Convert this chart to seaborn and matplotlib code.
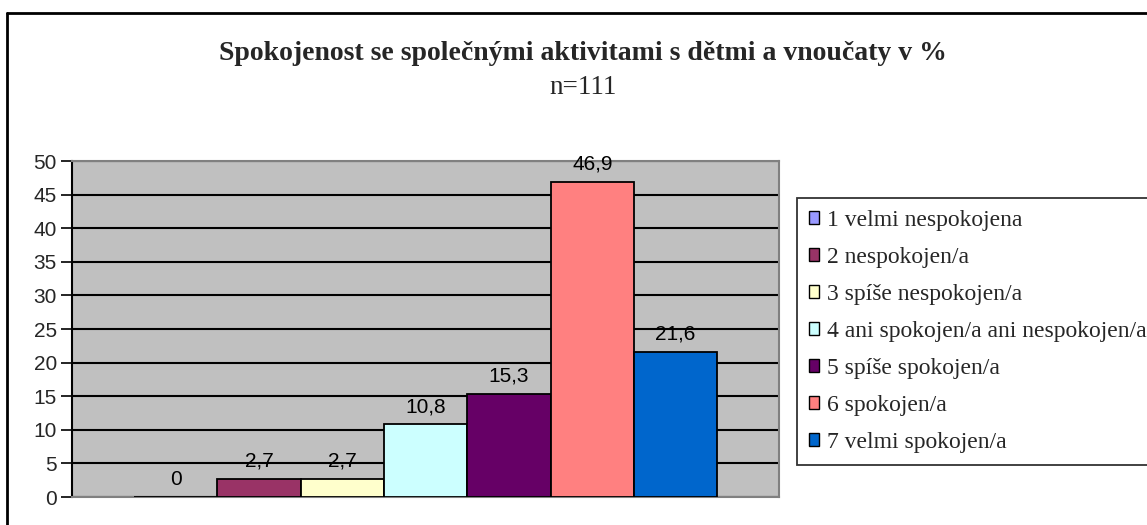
import matplotlib
matplotlib.use('Agg')
import matplotlib.pyplot as plt
from matplotlib.patches import Patch
from matplotlib.lines import Line2D
import pandas as pd
import seaborn as sns

# ---------------- data ----------------
odpovedi = ['1 velmi nespokojena',
            '2 nespokojen/a',
            '3 spíše nespokojen/a',
            '4 ani spokojen/a ani nespokojen/a',
            '5 spíše spokojen/a',
            '6 spokojen/a',
            '7 velmi spokojen/a']
procenta = [0, 2.7, 2.7, 10.8, 15.3, 46.9, 21.6]
barvy = ['#9999FF', '#993366', '#FFFFCC', '#CCFFFF', '#660066', '#FF8080', '#0066CC']

nadpis = 'Spokojenost se společnými aktivitami s dětmi a vnoučaty v %'
podnadpis = 'n=111'

df = pd.DataFrame({'skupina': [''] * len(odpovedi),
                   'odpoved': odpovedi,
                   'procenta': procenta})

sns.set_style('white')
plt.rcParams['font.family'] = ['Liberation Sans', 'DejaVu Sans']

fig = plt.figure(figsize=(11.47, 5.25), dpi=100)
ax = fig.add_axes([0.0628, 0.0533, 0.6165, 0.64])

sns.barplot(data=df, x='skupina', y='procenta', hue='odpoved',
            hue_order=odpovedi, palette=barvy, saturation=1, width=0.825,
            edgecolor='black', linewidth=1.3, legend=False, ax=ax, zorder=3)

ax.set_facecolor('#C0C0C0')
ax.set_xlim(-0.5, 0.5)
ax.set_ylim(0, 50)
ax.set_yticks(range(0, 51, 5))
ax.set_xticks([])
ax.set_xlabel('')
ax.set_ylabel('')
ax.yaxis.grid(True, color='black', linewidth=1.5, zorder=1)
ax.set_axisbelow(True)
ax.tick_params(axis='y', left=True, length=8, width=1.2, color='black',
               labelsize=15, pad=3, direction='out')

for side in ['top', 'right', 'bottom']:
    ax.spines[side].set_color('#808080')
    ax.spines[side].set_linewidth(1.5)
ax.spines['left'].set_color('black')
ax.spines['left'].set_linewidth(1.5)

for cont in ax.containers:
    hodnoty = [b.get_height() for b in cont]
    ax.bar_label(cont, labels=[f'{v:g}'.replace('.', ',') for v in hodnoty],
                 padding=6, fontsize=15, color='black')

# title
fig.text(0.508, 1 - 53 / 525, nadpis, ha='center', va='center',
         fontsize=20, fontweight='bold', family='Liberation Serif')
fig.text(0.508, 1 - 88 / 525, podnadpis, ha='center', va='center',
         fontsize=19.5, family='Liberation Serif')

# legend
handles = [Patch(facecolor=c, edgecolor='black', linewidth=1.0) for c in barvy]
leg = fig.legend(handles, odpovedi, loc='upper left',
                 bbox_to_anchor=(797 / 1147, 1 - 198 / 525),
                 prop={'family': 'Liberation Serif', 'size': 17},
                 frameon=True, fancybox=False, edgecolor='black',
                 handlelength=0.45, handleheight=0.45, handletextpad=0.3,
                 labelspacing=0.68, borderpad=0.5, borderaxespad=0)
leg.get_frame().set_linewidth(1.3)

# outer chart border (clipped at right and bottom)
fig.add_artist(Line2D([7 / 1147, 1.0], [1 - 13 / 525, 1 - 13 / 525],
                      color='black', linewidth=2))
fig.add_artist(Line2D([7 / 1147, 7 / 1147], [0, 1 - 13 / 525],
                      color='black', linewidth=2))

fig.savefig('out.png', dpi=100)
